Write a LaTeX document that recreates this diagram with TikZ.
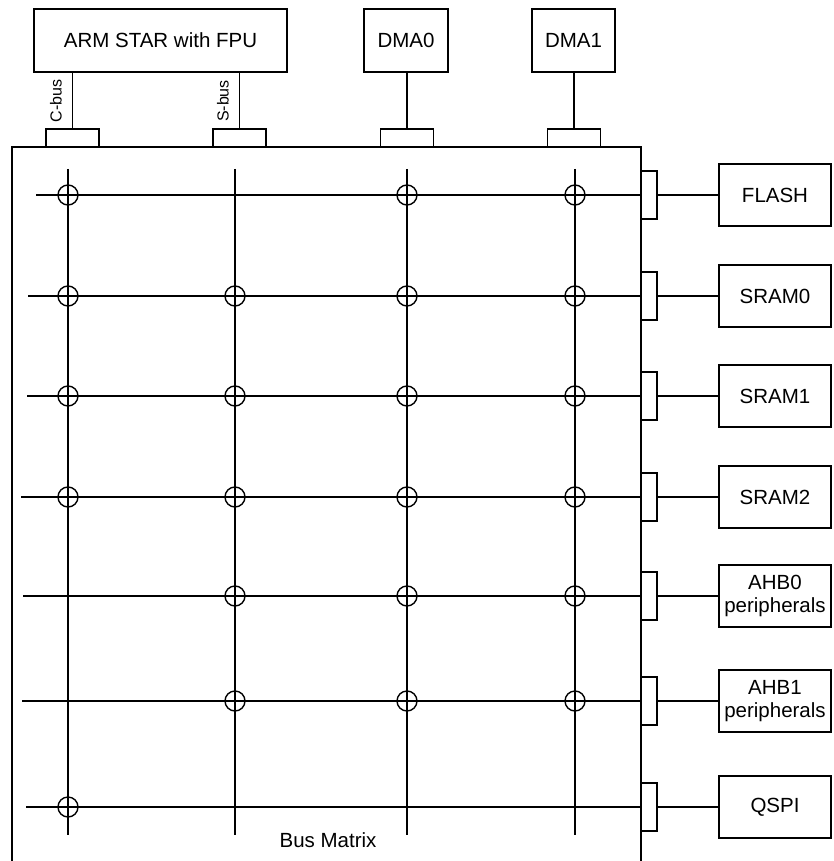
\documentclass[tikz,border=0pt]{standalone}
\usepackage{fontspec}
\setmainfont{Liberation Sans}
\begin{document}
\begin{tikzpicture}[x=1pt,y=-1pt,line width=1.4pt,
  font=\fontsize{20.5}{23}\selectfont,
  unit/.style={draw, minimum height=63pt, inner sep=2pt, align=center},
  port/.style={draw, minimum width=53pt, minimum height=18pt, inner sep=0pt},
  sideport/.style={draw, minimum width=16pt, minimum height=48pt, inner sep=0pt},
  slave/.style={draw, minimum width=112pt, minimum height=62pt, inner sep=1pt, align=center},
  buslabel/.style={font=\fontsize{16}{18}\selectfont, rotate=90, inner sep=1pt}]
  \useasboundingbox (0,0) rectangle (834,861);
  % Masters
  \node[unit, minimum width=253pt] (arm) at (160.5,40.5) {ARM STAR with FPU};
  \node[unit, minimum width=84pt] (dma0) at (406,40.5) {DMA0};
  \node[unit, minimum width=83pt] (dma1) at (573.5,40.5) {DMA1};
  % Master ports on the matrix
  \node[port] (cport) at (72.5,138) {};
  \node[port] (sport) at (239.5,138) {};
  \node[port] (dport0) at (407,138) {};
  \node[port] (dport1) at (574,138) {};
  \draw (cport.north) -- (cport.north |- arm.south);
  \draw (sport.north) -- (sport.north |- arm.south);
  \draw (dport0.north) -- (dport0.north |- dma0.south);
  \draw (dport1.north) -- (dport1.north |- dma1.south);
  \node[buslabel] (clabel) at (56,101) {C-bus};
  \node[buslabel] (slabel) at (223,101) {S-bus};
  % Matrix outline (open at the bottom)
  \draw (12,861) -- (12,147) -- (641,147) -- (641,861);
  \node (mlabel) at (328,840) {Bus Matrix};
  % Master columns
  \foreach \x/\name in {68/c, 235/s, 407/d0, 575/d1} {
    \coordinate (\name top) at (\x,169);
    \coordinate (\name bot) at (\x,835);
    \draw (\name top) -- (\name bot);
  }
  % Slave rows
  \foreach \y/\x/\name/\txt in {195/36/flash/FLASH, 296/28/sram0/SRAM0,
      396/27/sram1/SRAM1, 497/21/sram2/SRAM2, 596/23/ahb0/{AHB0\\peripherals},
      701/22/ahb1/{AHB1\\peripherals}, 807/26/qspi/QSPI} {
    \node[sideport] (p\name) at (649,\y) {};
    \node[slave] (\name) at (775,\y) {\txt};
    \coordinate (r\name) at (\x,\y);
    \draw (r\name) -- (p\name.west);
    \draw (p\name.east) -- (\name.west);
  }
  % Connections
  \foreach \x/\y in {68/195, 407/195, 575/195,
      68/296, 235/296, 407/296, 575/296,
      68/396, 235/396, 407/396, 575/396,
      68/497, 235/497, 407/497, 575/497,
      235/596, 407/596, 575/596,
      235/701, 407/701, 575/701,
      68/807}
    \draw (\x,\y) circle[radius=10];
\end{tikzpicture}
\end{document}
